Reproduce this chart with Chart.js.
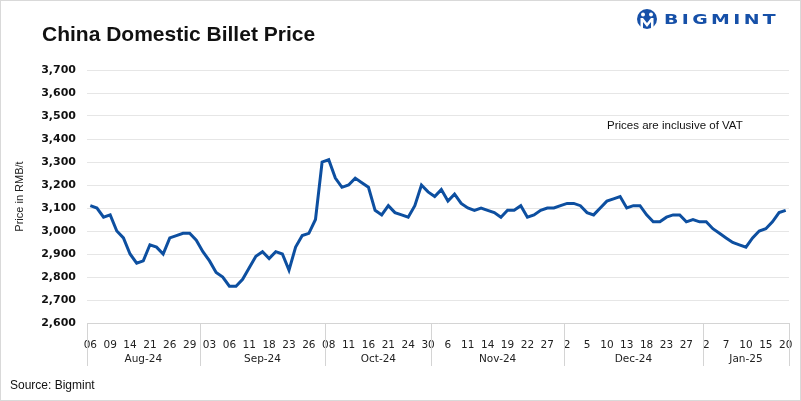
<!DOCTYPE html>
<html>
<head>
<meta charset="utf-8">
<script src="https://cdn.jsdelivr.net/npm/chart.js@4.4.1/dist/chart.umd.min.js"></script>
<style>
html,body{margin:0;padding:0;background:#fff;}
#wrap{position:relative;width:801px;height:401px;overflow:hidden;font-family:"Liberation Sans",Arial,sans-serif;}
#frame{position:absolute;left:0;top:0;width:801px;height:401px;box-sizing:border-box;border:1px solid #d9d9d9;pointer-events:none;}
canvas{position:absolute;left:0;top:0;}
#title{position:absolute;left:42px;top:22px;font-size:21px;font-weight:bold;color:#111;white-space:nowrap;}
#note{position:absolute;left:607px;top:119px;font-size:11.5px;color:#111;white-space:nowrap;}
#source{position:absolute;left:10px;top:378px;font-size:12px;color:#111;white-space:nowrap;}
#logo{position:absolute;left:636px;top:8px;height:22px;display:flex;align-items:center;}
#logo span{display:inline-block;font-family:"DejaVu Sans",sans-serif;font-weight:bold;font-size:14px;letter-spacing:2.5px;color:#1650a8;margin-left:6px;transform:scaleX(1.35);transform-origin:left center;}
</style>
</head>
<body>
<div id="wrap">
  <canvas id="c" width="801" height="401"></canvas>
  <div id="title">China Domestic Billet Price</div>
  <div id="logo">
    <svg width="22" height="22" viewBox="0 0 22 22">
      <circle cx="11" cy="11" r="10" fill="#1650a8"/>
      <circle cx="7" cy="6.5" r="2" fill="#fff"/>
      <circle cx="15" cy="6.5" r="2" fill="#fff"/>
      <path d="M4.5 10 L7 10 L11 15 L15 10 L17.5 10 L17.5 20 L15 20 L15 14 L11 19 L7 14 L7 20 L4.5 20 Z" fill="#fff"/>
    </svg>
    <span>BIGMINT</span>
  </div>
  <div id="note">Prices are inclusive of VAT</div>
  <div id="source">Source: Bigmint</div>
  <div id="frame"></div>
</div>
<script>
const dayLabels = [
  '06','07','08','09','12','13','14','16','20','21','22','23','26','27','28','29','30',
  '02','03','04','05','06','09','10','11','12','13','18','19','20','23','24','25','26','27','30',
  '08','09','10','11','14','15','16','17','18','21','22','23','24','28','29','30',
  '1','5','6','7','8','11','12','13','14','15','18','19','20','21','22','25','26','27','28','29',
  '2','3','4','5','6','9','10','11','12','13','16','17','18','19','20','23','24','26','27','30','31',
  '2','3','6','7','8','9','10','13','14','15','16','17','20'
];
const monthLabels = ['Aug-24','Sep-24','Oct-24','Nov-24','Dec-24','Jan-25'];
const monthSizes = [17,19,16,20,21,13];
const prices = [
  3110,3100,3060,3070,3000,2970,2900,2860,2870,2940,2930,2900,2970,2980,2990,2990,2960,
  2910,2870,2820,2800,2760,2760,2790,2840,2890,2910,2880,2910,2900,2830,2930,2980,2990,3050,3300,
  3310,3230,3190,3200,3230,3210,3190,3090,3070,3110,3080,3070,3060,3110,3200,3170,
  3150,3180,3130,3160,3120,3100,3090,3100,3090,3080,3060,3090,3090,3110,3060,3070,3090,3100,3100,3110,
  3120,3120,3110,3080,3070,3100,3130,3140,3150,3100,3110,3110,3070,3040,3040,3060,3070,3070,3040,3050,3040,
  3040,3010,2990,2970,2950,2940,2930,2970,3000,3010,3040,3080,3090
];
const yTicks = {min: 2600, max: 3700, step: 100};

const monthPlugin = {
  id: 'monthGroups',
  afterDraw(chart) {
    const x = chart.scales.x;
    const ctx = chart.ctx;
    const half = (x.getPixelForValue(1) - x.getPixelForValue(0)) / 2;
    const top = chart.chartArea.bottom;
    const bottom = top + 43;
    ctx.save();
    ctx.strokeStyle = '#d4d4d4';
    ctx.lineWidth = 1;
    ctx.fillStyle = '#222';
    ctx.font = '10.5px "DejaVu Sans", sans-serif';
    ctx.textAlign = 'center';
    ctx.textBaseline = 'middle';
    let start = 0;
    monthSizes.forEach((n, g) => {
      const l = x.getPixelForValue(start) - half;
      const r = x.getPixelForValue(start + n - 1) + half;
      ctx.beginPath();
      ctx.moveTo(Math.round(l) + 0.5, top);
      ctx.lineTo(Math.round(l) + 0.5, bottom);
      if (g === monthSizes.length - 1) {
        ctx.moveTo(Math.round(r) + 0.5, top);
        ctx.lineTo(Math.round(r) + 0.5, bottom);
      }
      ctx.stroke();
      ctx.fillText(monthLabels[g], (l + r) / 2, top + 36);
      start += n;
    });
    ctx.restore();
  }
};

new Chart(document.getElementById('c'), {
  type: 'line',
  data: {
    labels: dayLabels,
    datasets: [{
      data: prices,
      borderColor: '#0d4fa0',
      borderWidth: 3,
      pointRadius: 0,
      tension: 0,
      fill: false
    }]
  },
  options: {
    responsive: false,
    animation: false,
    devicePixelRatio: 1,
    layout: {padding: {left: 0, right: 12, top: 70, bottom: 30}},
    plugins: {legend: {display: false}, tooltip: {enabled: false}},
    scales: {
      x: {
        type: 'category',
        offset: true,
        grid: {display: false},
        border: {display: true, color: '#d4d4d4'},
        ticks: {
          autoSkip: false,
          maxRotation: 0,
          padding: 8,
          color: '#222',
          font: {family: '"DejaVu Sans", sans-serif', size: 10.5},
          callback: (v, i) => (i % 3 === 0 ? dayLabels[i] : '')
        },
        afterFit: s => { s.height = 48; }
      },
      y: {
        min: yTicks.min,
        max: yTicks.max,
        grid: {color: '#e6e6e6', drawTicks: false},
        border: {display: false},
        ticks: {
          stepSize: yTicks.step,
          padding: 11,
          color: '#111',
          font: {family: '"DejaVu Sans", sans-serif', size: 11, weight: 'bold'},
          callback: v => v.toLocaleString('en-US')
        },
        title: {
          display: true,
          text: 'Price in RMB/t',
          color: '#222',
          font: {family: '"Liberation Sans", Arial, sans-serif', size: 11},
          padding: {top: 13, bottom: 0}
        },
        afterFit: s => { s.width = 87; }
      }
    }
  },
  plugins: [monthPlugin]
});
</script>
</body>
</html>
